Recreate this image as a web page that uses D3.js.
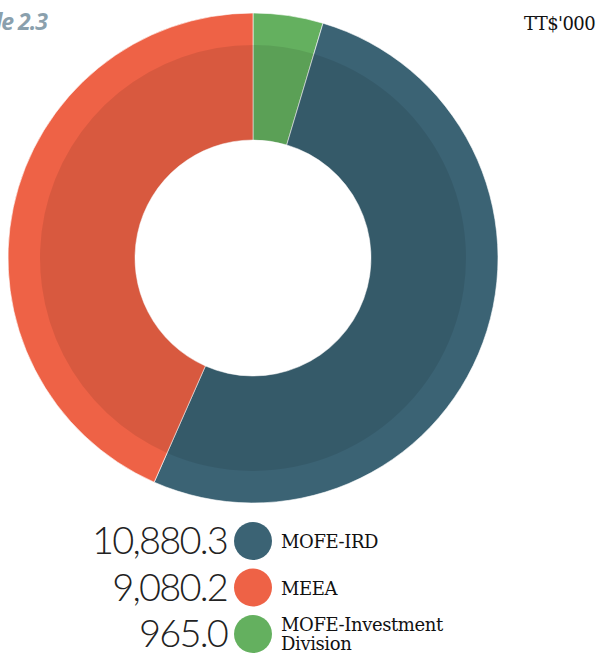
<!DOCTYPE html>
<html>
<head>
<meta charset="utf-8">
<script src="https://cdn.jsdelivr.net/npm/d3@7"></script>
<style>
  html, body { margin: 0; padding: 0; background: #fff; }
  svg { display: block; }
</style>
</head>
<body>
<svg id="chart" width="597" height="654"></svg>
<script>
// data (TT$'000)
const categories = ["MOFE-Investment Division", "MOFE-IRD", "MEEA"];
const values = [965.0, 10880.3, 9080.2];
const colors = ["#64b05f", "#3b6374", "#ee6246"];

// legend order differs from the pie order
const legendOrder = ["MOFE-IRD", "MEEA", "MOFE-Investment Division"];
const legendLines = {
  "MOFE-IRD": ["MOFE-IRD"],
  "MEEA": ["MEEA"],
  "MOFE-Investment Division": ["MOFE-Investment", "Division"]
};

const svg = d3.select("#chart");
const cx = 253, cy = 258;
const outerR = 245, innerR = 118, shadeR = 213;

const color = d3.scaleOrdinal().domain(categories).range(colors);

const pie = d3.pie().sort(null).value(d => d.value);
const arcs = pie(categories.map((c, i) => ({ name: c, value: values[i] })));

const g = svg.append("g").attr("transform", `translate(${cx},${cy})`);

const arc = d3.arc().innerRadius(innerR).outerRadius(outerR);
const shade = d3.arc().innerRadius(innerR).outerRadius(shadeR);

g.selectAll("path.slice")
  .data(arcs)
  .enter()
  .append("path")
  .attr("class", "slice")
  .attr("d", arc)
  .attr("fill", d => color(d.data.name))
  .attr("stroke", "#fff")
  .attr("stroke-width", 0.6);

// darker inner band
g.selectAll("path.shade")
  .data(arcs)
  .enter()
  .append("path")
  .attr("class", "shade")
  .attr("d", shade)
  .attr("fill", "#000")
  .attr("fill-opacity", 0.09);

// title (cut at the left edge) and units
svg.append("text")
  .attr("x", 47)
  .attr("y", 30)
  .attr("text-anchor", "end")
  .style("font-family", "'Open Sans', sans-serif")
  .style("font-style", "italic")
  .style("font-weight", 700)
  .style("font-size", "23px")
  .style("letter-spacing", "-1px")
  .style("fill", "#8aa0ad")
  .text("Table 2.3");

svg.append("text")
  .attr("x", 595)
  .attr("y", 30)
  .attr("text-anchor", "end")
  .style("font-family", "'DejaVu Serif', serif")
  .style("font-size", "18px")
  .style("letter-spacing", "-0.6px")
  .style("fill", "#111")
  .text("TT$'000");

// legend
const rowY = d3.scalePoint().domain(legendOrder).range([541, 634]);
const valueOf = name => values[categories.indexOf(name)];

const leg = svg.append("g")
  .selectAll("g")
  .data(legendOrder)
  .enter()
  .append("g")
  .attr("transform", d => `translate(0,${rowY(d)})`);

leg.append("text")
  .attr("x", 227)
  .attr("y", 13)
  .attr("text-anchor", "end")
  .style("font-family", "Lato, sans-serif")
  .style("font-weight", 300)
  .style("font-size", "38px")
  .style("letter-spacing", "-1.8px")
  .style("fill", "#222")
  .text(d => d3.format(",.1f")(valueOf(d)));

leg.append("circle")
  .attr("cx", 253)
  .attr("cy", 0)
  .attr("r", 19)
  .attr("fill", d => color(d));

leg.append("text")
  .attr("x", 281)
  .style("font-family", "'DejaVu Serif', serif")
  .style("font-size", "18px")
  .style("letter-spacing", "-0.4px")
  .style("fill", "#111")
  .selectAll("tspan")
  .data(d => legendLines[d].map((t, i, a) => ({ t, i, n: a.length })))
  .enter()
  .append("tspan")
  .attr("x", 281)
  .attr("y", d => d.n === 1 ? 7 : -3 + d.i * 19)
  .text(d => d.t);
</script>
</body>
</html>
